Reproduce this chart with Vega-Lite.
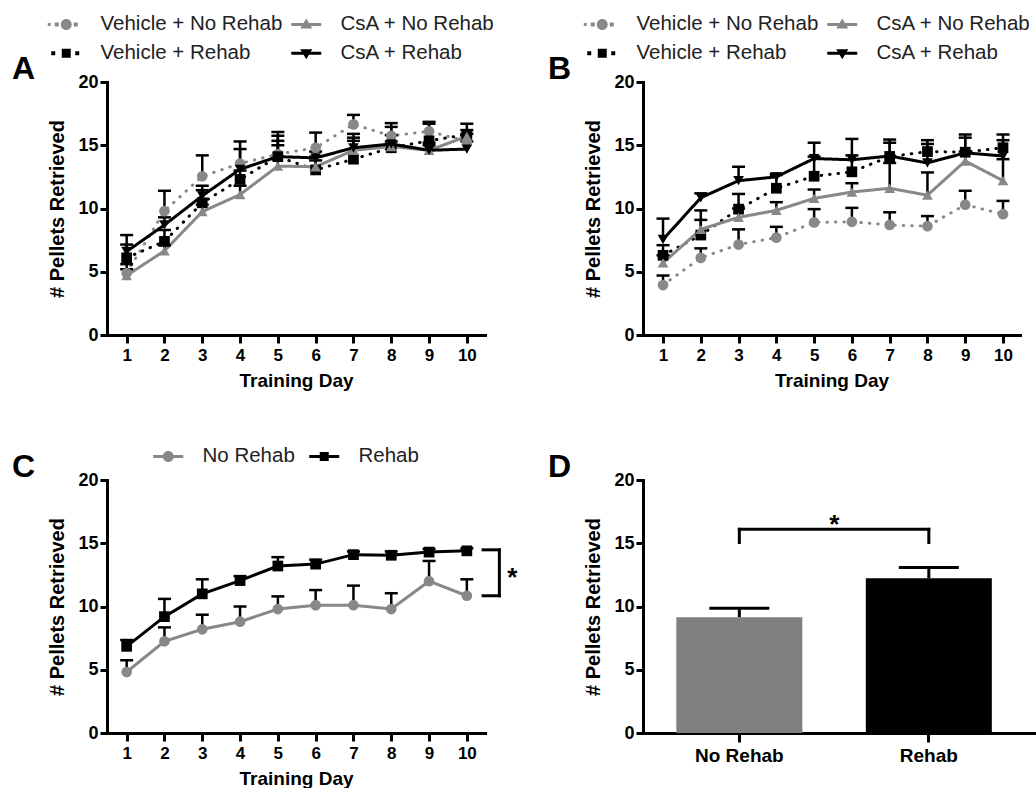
{
"$schema":"https://vega.github.io/schema/vega-lite/v6.json",
"autosize":{"type":"pad"},
"padding":{"left":12,"top":14,"right":0,"bottom":0},
"background":"white",
"columns":2,
"bounds":"flush",
"align":"each",
"spacing":{"row":145,"column":158},
"config":{
 "view":{"stroke":null},
 "font":"Liberation Sans",
 "axis":{"domainColor":"#000","domainWidth":3,"domainCap":"square","tickColor":"#000","tickWidth":3,"grid":false,"labelFont":"Liberation Sans","labelFontWeight":"bold","labelColor":"#000","titleFont":"Liberation Sans","titleFontWeight":"bold","titleColor":"#000","labelFlush":false,"labelOverlap":false},
 "axisY":{"tickSize":7,"labelPadding":2,"labelFontSize":18,"titleFontSize":20,"titlePadding":10},
 "axisX":{"tickSize":8,"labelPadding":4,"labelFontSize":17,"titleFontSize":19,"titlePadding":8,"labelAngle":0},
 "legend":{"labelFont":"Liberation Sans","labelFontSize":20.5,"labelColor":"#222","labelLimit":400,"symbolSize":100,"symbolStrokeWidth":0,"labelOffset":24,"rowPadding":8},
 "title":{"anchor":"start","frame":"group","fontSize":32,"fontWeight":"bold","font":"Liberation Sans","color":"#000","offset":0,"dx":-95,"baseline":"alphabetic"}
},
"datasets":{
 "A":[
  {"group":"Vehicle + No Rehab","day":1,"mean":4.9,"upper":5.6},{"group":"Vehicle + No Rehab","day":2,"mean":9.8,"upper":11.4},{"group":"Vehicle + No Rehab","day":3,"mean":12.55,"upper":14.2},{"group":"Vehicle + No Rehab","day":4,"mean":13.55,"upper":15.3},{"group":"Vehicle + No Rehab","day":5,"mean":14.3,"upper":15.75},{"group":"Vehicle + No Rehab","day":6,"mean":14.8,"upper":16.0},{"group":"Vehicle + No Rehab","day":7,"mean":16.65,"upper":17.4},{"group":"Vehicle + No Rehab","day":8,"mean":15.75,"upper":16.75},{"group":"Vehicle + No Rehab","day":9,"mean":16.1,"upper":16.85},{"group":"Vehicle + No Rehab","day":10,"mean":15.3,"upper":15.9},
  {"group":"Vehicle + Rehab","day":1,"mean":6.1,"upper":7.15},{"group":"Vehicle + Rehab","day":2,"mean":7.4,"upper":8.3},{"group":"Vehicle + Rehab","day":3,"mean":10.45,"upper":11.45},{"group":"Vehicle + Rehab","day":4,"mean":12.3,"upper":13.0},{"group":"Vehicle + Rehab","day":5,"mean":14.1,"upper":15.35},{"group":"Vehicle + Rehab","day":6,"mean":13.05,"upper":14.1},{"group":"Vehicle + Rehab","day":7,"mean":13.9,"upper":15.35},{"group":"Vehicle + Rehab","day":8,"mean":14.8,"upper":15.8},{"group":"Vehicle + Rehab","day":9,"mean":15.35,"upper":16.7},{"group":"Vehicle + Rehab","day":10,"mean":15.85,"upper":16.7},
  {"group":"CsA + No Rehab","day":1,"mean":4.7,"upper":5.2},{"group":"CsA + No Rehab","day":2,"mean":6.65,"upper":7.1},{"group":"CsA + No Rehab","day":3,"mean":9.75,"upper":10.3},{"group":"CsA + No Rehab","day":4,"mean":11.1,"upper":11.8},{"group":"CsA + No Rehab","day":5,"mean":13.35,"upper":15.0},{"group":"CsA + No Rehab","day":6,"mean":13.3,"upper":13.8},{"group":"CsA + No Rehab","day":7,"mean":14.6,"upper":15.6},{"group":"CsA + No Rehab","day":8,"mean":14.9,"upper":15.3},{"group":"CsA + No Rehab","day":9,"mean":14.6,"upper":15.0},{"group":"CsA + No Rehab","day":10,"mean":15.7,"upper":16.2},
  {"group":"CsA + Rehab","day":1,"mean":6.6,"upper":7.9},{"group":"CsA + Rehab","day":2,"mean":8.7,"upper":9.3},{"group":"CsA + Rehab","day":3,"mean":11.0,"upper":11.8},{"group":"CsA + Rehab","day":4,"mean":13.1,"upper":14.7},{"group":"CsA + Rehab","day":5,"mean":14.1,"upper":16.05},{"group":"CsA + Rehab","day":6,"mean":14.0,"upper":14.5},{"group":"CsA + Rehab","day":7,"mean":14.8,"upper":15.9},{"group":"CsA + Rehab","day":8,"mean":15.1,"upper":16.45},{"group":"CsA + Rehab","day":9,"mean":14.6,"upper":15.2},{"group":"CsA + Rehab","day":10,"mean":14.7,"upper":15.3}
 ],
 "B":[
  {"group":"Vehicle + No Rehab","day":1,"mean":3.95,"upper":4.7},{"group":"Vehicle + No Rehab","day":2,"mean":6.1,"upper":6.85},{"group":"Vehicle + No Rehab","day":3,"mean":7.15,"upper":8.35},{"group":"Vehicle + No Rehab","day":4,"mean":7.7,"upper":8.55},{"group":"Vehicle + No Rehab","day":5,"mean":8.9,"upper":9.95},{"group":"Vehicle + No Rehab","day":6,"mean":8.95,"upper":10.05},{"group":"Vehicle + No Rehab","day":7,"mean":8.7,"upper":9.7},{"group":"Vehicle + No Rehab","day":8,"mean":8.6,"upper":9.4},{"group":"Vehicle + No Rehab","day":9,"mean":10.3,"upper":11.4},{"group":"Vehicle + No Rehab","day":10,"mean":9.55,"upper":10.6},
  {"group":"Vehicle + Rehab","day":1,"mean":6.3,"upper":7.1},{"group":"Vehicle + Rehab","day":2,"mean":7.9,"upper":9.85},{"group":"Vehicle + Rehab","day":3,"mean":9.95,"upper":11.15},{"group":"Vehicle + Rehab","day":4,"mean":11.6,"upper":12.65},{"group":"Vehicle + Rehab","day":5,"mean":12.55,"upper":14.1},{"group":"Vehicle + Rehab","day":6,"mean":12.9,"upper":14.2},{"group":"Vehicle + Rehab","day":7,"mean":14.1,"upper":15.2},{"group":"Vehicle + Rehab","day":8,"mean":14.5,"upper":15.4},{"group":"Vehicle + Rehab","day":9,"mean":14.45,"upper":15.85},{"group":"Vehicle + Rehab","day":10,"mean":14.8,"upper":15.85},
  {"group":"CsA + No Rehab","day":1,"mean":5.7,"upper":6.3},{"group":"CsA + No Rehab","day":2,"mean":8.35,"upper":9.1},{"group":"CsA + No Rehab","day":3,"mean":9.3,"upper":10.0},{"group":"CsA + No Rehab","day":4,"mean":9.85,"upper":10.5},{"group":"CsA + No Rehab","day":5,"mean":10.8,"upper":11.5},{"group":"CsA + No Rehab","day":6,"mean":11.3,"upper":12.0},{"group":"CsA + No Rehab","day":7,"mean":11.6,"upper":13.6},{"group":"CsA + No Rehab","day":8,"mean":11.05,"upper":12.85},{"group":"CsA + No Rehab","day":9,"mean":13.75,"upper":14.5},{"group":"CsA + No Rehab","day":10,"mean":12.2,"upper":13.9},
  {"group":"CsA + Rehab","day":1,"mean":7.55,"upper":9.2},{"group":"CsA + Rehab","day":2,"mean":10.85,"upper":11.2},{"group":"CsA + Rehab","day":3,"mean":12.2,"upper":13.3},{"group":"CsA + Rehab","day":4,"mean":12.5,"upper":12.75},{"group":"CsA + Rehab","day":5,"mean":13.95,"upper":15.2},{"group":"CsA + Rehab","day":6,"mean":13.85,"upper":15.5},{"group":"CsA + Rehab","day":7,"mean":14.15,"upper":15.45},{"group":"CsA + Rehab","day":8,"mean":13.6,"upper":15.1},{"group":"CsA + Rehab","day":9,"mean":14.4,"upper":15.6},{"group":"CsA + Rehab","day":10,"mean":14.15,"upper":15.4}
 ],
 "C":[
  {"group":"No Rehab","day":1,"mean":4.82,"upper":5.75},{"group":"No Rehab","day":2,"mean":7.25,"upper":8.35},{"group":"No Rehab","day":3,"mean":8.2,"upper":9.35},{"group":"No Rehab","day":4,"mean":8.8,"upper":10.0},{"group":"No Rehab","day":5,"mean":9.8,"upper":10.8},{"group":"No Rehab","day":6,"mean":10.1,"upper":11.3},{"group":"No Rehab","day":7,"mean":10.1,"upper":11.65},{"group":"No Rehab","day":8,"mean":9.8,"upper":11.05},{"group":"No Rehab","day":9,"mean":12.0,"upper":13.6},{"group":"No Rehab","day":10,"mean":10.85,"upper":12.15},
  {"group":"Rehab","day":1,"mean":6.85,"upper":7.35},{"group":"Rehab","day":2,"mean":9.2,"upper":10.6},{"group":"Rehab","day":3,"mean":11.0,"upper":12.15},{"group":"Rehab","day":4,"mean":12.05,"upper":12.4},{"group":"Rehab","day":5,"mean":13.2,"upper":13.9},{"group":"Rehab","day":6,"mean":13.35,"upper":13.7},{"group":"Rehab","day":7,"mean":14.1,"upper":14.35},{"group":"Rehab","day":8,"mean":14.05,"upper":14.35},{"group":"Rehab","day":9,"mean":14.3,"upper":14.55},{"group":"Rehab","day":10,"mean":14.4,"upper":14.6}
 ],
 "D":[
  {"cat":"No Rehab","mean":9.16,"upper":9.87},{"cat":"Rehab","mean":12.24,"upper":13.08}
 ]
},
"concat":[
 {
  "width":378,"height":253,
  "title":{"text":"A","dy":76},
  "data":{"name":"A"},
  "resolve":{"scale":{"color":"independent","shape":"independent","strokeDash":"independent"}},
  "layer":[
   {"mark":{"type":"line","strokeWidth":3,"strokeCap":"round"},
    "encoding":{
     "x":{"field":"day","type":"quantitative","scale":{"domain":[0.48,10.48],"nice":false,"zero":false},"axis":{"values":[1,2,3,4,5,6,7,8,9,10],"title":"Training Day"}},
     "y":{"field":"mean","type":"quantitative","scale":{"domain":[0,20],"nice":false},"axis":{"values":[0,5,10,15,20],"title":"# Pellets Retrieved"}},
     "color":{"field":"group","type":"nominal","scale":{"domain":["Vehicle + No Rehab","CsA + No Rehab","Vehicle + Rehab","CsA + Rehab"],"range":["#888888","#888888","#000000","#000000"]},"legend":null},
     "strokeDash":{"field":"group","type":"nominal","scale":{"domain":["Vehicle + No Rehab","CsA + No Rehab","Vehicle + Rehab","CsA + Rehab"],"range":[[0.5,8],[1,0],[0.5,8],[1,0]]},"legend":null}}},
   {"mark":{"type":"rule","strokeWidth":2.5,"color":"#000"},
    "encoding":{
     "x":{"field":"day","type":"quantitative","scale":{"domain":[0.48,10.48],"nice":false,"zero":false},"axis":{"values":[1,2,3,4,5,6,7,8,9,10],"title":"Training Day"}},
     "y":{"field":"mean","type":"quantitative","scale":{"domain":[0,20],"nice":false},"axis":{"values":[0,5,10,15,20],"title":"# Pellets Retrieved"}},
     "y2":{"field":"upper"}}},
   {"mark":{"type":"point","shape":"stroke","size":169,"strokeWidth":2.5,"color":"#000","opacity":1,"filled":false},
    "encoding":{
     "x":{"field":"day","type":"quantitative","scale":{"domain":[0.48,10.48],"nice":false,"zero":false},"axis":{"values":[1,2,3,4,5,6,7,8,9,10],"title":"Training Day"}},
     "y":{"field":"upper","type":"quantitative","scale":{"domain":[0,20],"nice":false},"axis":{"values":[0,5,10,15,20],"title":"# Pellets Retrieved"}}}},
   {"mark":{"type":"point","filled":true,"size":115,"opacity":1},
    "encoding":{
     "x":{"field":"day","type":"quantitative","scale":{"domain":[0.48,10.48],"nice":false,"zero":false},"axis":{"values":[1,2,3,4,5,6,7,8,9,10],"title":"Training Day"}},
     "y":{"field":"mean","type":"quantitative","scale":{"domain":[0,20],"nice":false},"axis":{"values":[0,5,10,15,20],"title":"# Pellets Retrieved"}},
     "color":{"field":"group","type":"nominal","scale":{"domain":["Vehicle + No Rehab","CsA + No Rehab","Vehicle + Rehab","CsA + Rehab"],"range":["#888888","#888888","#000000","#000000"]},"legend":null},
     "shape":{"field":"group","type":"nominal","scale":{"domain":["Vehicle + No Rehab","CsA + No Rehab","Vehicle + Rehab","CsA + Rehab"],"range":["circle","triangle-up","square","triangle-down"]},"legend":null}}},
   {"transform":[{"filter":"false"}],
    "mark":{"type":"point","filled":true,"opacity":1},
    "encoding":{
     "color":{"field":"group","type":"nominal","scale":{"domain":["Vehicle + No Rehab","Vehicle + Rehab","CsA + No Rehab","CsA + Rehab"],"range":["#888888","#000000","#888888","#000000"]},"legend":{"title":null,"orient":"none","legendX":-51,"legendY":-68,"columns":2,"columnPadding":8}},
     "shape":{"field":"group","type":"nominal","scale":{"domain":["Vehicle + No Rehab","Vehicle + Rehab","CsA + No Rehab","CsA + Rehab"],"range":["M-3.7,-0.3H-3.1V0.3H-3.7Z M-2.3,-0.4H-1.5V0.4H-2.3Z M1.5,-0.4H2.3V0.4H1.5Z M-1.1,0A1.1,1.1,0,1,1,1.1,0A1.1,1.1,0,1,1,-1.1,0Z","M-3,-0.4H-2.2V0.4H-3Z M1.8,-0.4H2.6V0.4H1.8Z M-0.9,-0.9H0.9V0.9H-0.9Z","M-3,-0.3H3V0.3H-3Z M0,-1.2L1.2,0.8H-1.2Z","M-3,-0.3H3V0.3H-3Z M0,1.2L-1.2,-0.8H1.2Z"]},"legend":{"title":null,"orient":"none","legendX":-51,"legendY":-68,"columns":2,"columnPadding":8}}}}
  ]
 },
 {
  "width":377,"height":253,
  "title":{"text":"B","dy":76},
  "data":{"name":"B"},
  "resolve":{"scale":{"color":"independent","shape":"independent","strokeDash":"independent"}},
  "layer":[
   {"mark":{"type":"line","strokeWidth":3,"strokeCap":"round"},
    "encoding":{
     "x":{"field":"day","type":"quantitative","scale":{"domain":[0.47,10.45],"nice":false,"zero":false},"axis":{"values":[1,2,3,4,5,6,7,8,9,10],"title":"Training Day"}},
     "y":{"field":"mean","type":"quantitative","scale":{"domain":[0,20],"nice":false},"axis":{"values":[0,5,10,15,20],"title":"# Pellets Retrieved"}},
     "color":{"field":"group","type":"nominal","scale":{"domain":["Vehicle + No Rehab","CsA + No Rehab","Vehicle + Rehab","CsA + Rehab"],"range":["#888888","#888888","#000000","#000000"]},"legend":null},
     "strokeDash":{"field":"group","type":"nominal","scale":{"domain":["Vehicle + No Rehab","CsA + No Rehab","Vehicle + Rehab","CsA + Rehab"],"range":[[0.5,8],[1,0],[0.5,8],[1,0]]},"legend":null}}},
   {"mark":{"type":"rule","strokeWidth":2.5,"color":"#000"},
    "encoding":{
     "x":{"field":"day","type":"quantitative","scale":{"domain":[0.47,10.45],"nice":false,"zero":false},"axis":{"values":[1,2,3,4,5,6,7,8,9,10],"title":"Training Day"}},
     "y":{"field":"mean","type":"quantitative","scale":{"domain":[0,20],"nice":false},"axis":{"values":[0,5,10,15,20],"title":"# Pellets Retrieved"}},
     "y2":{"field":"upper"}}},
   {"mark":{"type":"point","shape":"stroke","size":169,"strokeWidth":2.5,"color":"#000","opacity":1,"filled":false},
    "encoding":{
     "x":{"field":"day","type":"quantitative","scale":{"domain":[0.47,10.45],"nice":false,"zero":false},"axis":{"values":[1,2,3,4,5,6,7,8,9,10],"title":"Training Day"}},
     "y":{"field":"upper","type":"quantitative","scale":{"domain":[0,20],"nice":false},"axis":{"values":[0,5,10,15,20],"title":"# Pellets Retrieved"}}}},
   {"mark":{"type":"point","filled":true,"size":115,"opacity":1},
    "encoding":{
     "x":{"field":"day","type":"quantitative","scale":{"domain":[0.47,10.45],"nice":false,"zero":false},"axis":{"values":[1,2,3,4,5,6,7,8,9,10],"title":"Training Day"}},
     "y":{"field":"mean","type":"quantitative","scale":{"domain":[0,20],"nice":false},"axis":{"values":[0,5,10,15,20],"title":"# Pellets Retrieved"}},
     "color":{"field":"group","type":"nominal","scale":{"domain":["Vehicle + No Rehab","CsA + No Rehab","Vehicle + Rehab","CsA + Rehab"],"range":["#888888","#888888","#000000","#000000"]},"legend":null},
     "shape":{"field":"group","type":"nominal","scale":{"domain":["Vehicle + No Rehab","CsA + No Rehab","Vehicle + Rehab","CsA + Rehab"],"range":["circle","triangle-up","square","triangle-down"]},"legend":null}}},
   {"transform":[{"filter":"false"}],
    "mark":{"type":"point","filled":true,"opacity":1},
    "encoding":{
     "color":{"field":"group","type":"nominal","scale":{"domain":["Vehicle + No Rehab","Vehicle + Rehab","CsA + No Rehab","CsA + Rehab"],"range":["#888888","#000000","#888888","#000000"]},"legend":{"title":null,"orient":"none","legendX":-51,"legendY":-68,"columns":2,"columnPadding":8}},
     "shape":{"field":"group","type":"nominal","scale":{"domain":["Vehicle + No Rehab","Vehicle + Rehab","CsA + No Rehab","CsA + Rehab"],"range":["M-3.7,-0.3H-3.1V0.3H-3.7Z M-2.3,-0.4H-1.5V0.4H-2.3Z M1.5,-0.4H2.3V0.4H1.5Z M-1.1,0A1.1,1.1,0,1,1,1.1,0A1.1,1.1,0,1,1,-1.1,0Z","M-3,-0.4H-2.2V0.4H-3Z M1.8,-0.4H2.6V0.4H1.8Z M-0.9,-0.9H0.9V0.9H-0.9Z","M-3,-0.3H3V0.3H-3Z M0,-1.2L1.2,0.8H-1.2Z","M-3,-0.3H3V0.3H-3Z M0,1.2L-1.2,-0.8H1.2Z"]},"legend":{"title":null,"orient":"none","legendX":-51,"legendY":-68,"columns":2,"columnPadding":8}}}}
  ]
 },
 {
  "width":378,"height":253,
  "title":{"text":"C","dy":42},
  "data":{"name":"C"},
  "resolve":{"scale":{"color":"independent","shape":"independent"}},
  "layer":[
   {"mark":{"type":"line","strokeWidth":3,"strokeCap":"round"},
    "encoding":{
     "x":{"field":"day","type":"quantitative","scale":{"domain":[0.48,10.48],"nice":false,"zero":false},"axis":{"values":[1,2,3,4,5,6,7,8,9,10],"title":"Training Day"}},
     "y":{"field":"mean","type":"quantitative","scale":{"domain":[0,20],"nice":false},"axis":{"values":[0,5,10,15,20],"title":"# Pellets Retrieved"}},
     "color":{"field":"group","type":"nominal","scale":{"domain":["No Rehab","Rehab"],"range":["#888888","#000000"]},"legend":null}}},
   {"mark":{"type":"rule","strokeWidth":2.5,"color":"#000"},
    "encoding":{
     "x":{"field":"day","type":"quantitative","scale":{"domain":[0.48,10.48],"nice":false,"zero":false},"axis":{"values":[1,2,3,4,5,6,7,8,9,10],"title":"Training Day"}},
     "y":{"field":"mean","type":"quantitative","scale":{"domain":[0,20],"nice":false},"axis":{"values":[0,5,10,15,20],"title":"# Pellets Retrieved"}},
     "y2":{"field":"upper"}}},
   {"mark":{"type":"point","shape":"stroke","size":169,"strokeWidth":2.5,"color":"#000","opacity":1,"filled":false},
    "encoding":{
     "x":{"field":"day","type":"quantitative","scale":{"domain":[0.48,10.48],"nice":false,"zero":false},"axis":{"values":[1,2,3,4,5,6,7,8,9,10],"title":"Training Day"}},
     "y":{"field":"upper","type":"quantitative","scale":{"domain":[0,20],"nice":false},"axis":{"values":[0,5,10,15,20],"title":"# Pellets Retrieved"}}}},
   {"mark":{"type":"point","filled":true,"size":115,"opacity":1},
    "encoding":{
     "x":{"field":"day","type":"quantitative","scale":{"domain":[0.48,10.48],"nice":false,"zero":false},"axis":{"values":[1,2,3,4,5,6,7,8,9,10],"title":"Training Day"}},
     "y":{"field":"mean","type":"quantitative","scale":{"domain":[0,20],"nice":false},"axis":{"values":[0,5,10,15,20],"title":"# Pellets Retrieved"}},
     "color":{"field":"group","type":"nominal","scale":{"domain":["No Rehab","Rehab"],"range":["#888888","#000000"]},"legend":null},
     "shape":{"field":"group","type":"nominal","scale":{"domain":["No Rehab","Rehab"],"range":["circle","square"]},"legend":null}}},
   {"transform":[{"filter":"false"}],
    "mark":{"type":"point","filled":true,"opacity":1},
    "encoding":{
     "color":{"field":"group","type":"nominal","scale":{"domain":["No Rehab","Rehab"],"range":["#888888","#000000"]},"legend":{"title":null,"orient":"none","legendX":51,"legendY":-34,"columns":2,"columnPadding":14}},
     "shape":{"field":"group","type":"nominal","scale":{"domain":["No Rehab","Rehab"],"range":["M-3,-0.3H3V0.3H-3Z M-1.1,0A1.1,1.1,0,1,1,1.1,0A1.1,1.1,0,1,1,-1.1,0Z","M-3,-0.3H3V0.3H-3Z M-0.9,-0.9H0.9V0.9H-0.9Z"]},"legend":{"title":null,"orient":"none","legendX":51,"legendY":-34,"columns":2,"columnPadding":14}}}},
   {"data":{"values":[{"x":10.43,"x2":10.86,"y":14.48,"y2":14.48},{"x":10.86,"x2":10.86,"y":14.48,"y2":10.85},{"x":10.43,"x2":10.86,"y":10.85,"y2":10.85}]},
    "mark":{"type":"rule","strokeWidth":3,"color":"#000","strokeCap":"square"},
    "encoding":{
     "x":{"field":"x","type":"quantitative","scale":{"domain":[0.48,10.48],"nice":false,"zero":false},"axis":{"values":[1,2,3,4,5,6,7,8,9,10],"title":"Training Day"}},
     "x2":{"field":"x2"},
     "y":{"field":"y","type":"quantitative","scale":{"domain":[0,20],"nice":false},"axis":{"values":[0,5,10,15,20],"title":"# Pellets Retrieved"}},
     "y2":{"field":"y2"}}},
   {"data":{"values":[{"x":11.2,"y":12.25,"label":"*"}]},
    "mark":{"type":"text","fontSize":26,"fontWeight":"bold","font":"Liberation Sans","color":"#000","align":"center","baseline":"middle"},
    "encoding":{
     "x":{"field":"x","type":"quantitative","scale":{"domain":[0.48,10.48],"nice":false,"zero":false},"axis":{"values":[1,2,3,4,5,6,7,8,9,10],"title":"Training Day"}},
     "y":{"field":"y","type":"quantitative","scale":{"domain":[0,20],"nice":false},"axis":{"values":[0,5,10,15,20],"title":"# Pellets Retrieved"}},
     "text":{"field":"label"}}}
  ]
 },
 {
  "width":393,"height":253,
  "title":{"text":"D","dy":17},
  "data":{"name":"D"},
  "layer":[
   {"mark":{"type":"bar"},
    "encoding":{
     "x":{"field":"cat","type":"nominal","sort":null,"scale":{"domain":["No Rehab","Rehab"],"paddingInner":0.335,"paddingOuter":0.2045,"align":0.43},"axis":{"title":null,"labelFontSize":19,"tickSize":9,"labelPadding":4}},
     "y":{"field":"mean","type":"quantitative","scale":{"domain":[0,20],"nice":false},"axis":{"values":[0,5,10,15,20],"title":"# Pellets Retrieved"}},
     "color":{"field":"cat","type":"nominal","scale":{"domain":["No Rehab","Rehab"],"range":["#808080","#000000"]},"legend":null}}},
   {"mark":{"type":"rule","strokeWidth":3,"color":"#000"},
    "encoding":{
     "x":{"field":"cat","type":"nominal","sort":null,"scale":{"domain":["No Rehab","Rehab"],"paddingInner":0.335,"paddingOuter":0.2045,"align":0.43},"axis":{"title":null,"labelFontSize":19,"tickSize":9,"labelPadding":4}},
     "y":{"field":"mean","type":"quantitative","scale":{"domain":[0,20],"nice":false},"axis":{"values":[0,5,10,15,20],"title":"# Pellets Retrieved"}},
     "y2":{"field":"upper"}}},
   {"mark":{"type":"point","shape":"stroke","size":3600,"strokeWidth":3,"color":"#000","opacity":1,"filled":false},
    "encoding":{
     "x":{"field":"cat","type":"nominal","sort":null,"scale":{"domain":["No Rehab","Rehab"],"paddingInner":0.335,"paddingOuter":0.2045,"align":0.43},"axis":{"title":null,"labelFontSize":19,"tickSize":9,"labelPadding":4}},
     "y":{"field":"upper","type":"quantitative","scale":{"domain":[0,20],"nice":false},"axis":{"values":[0,5,10,15,20],"title":"# Pellets Retrieved"}}}},
   {"data":{"values":[{"cat":"No Rehab","lo":15.06,"hi":16.1},{"cat":"Rehab","lo":15.06,"hi":16.1}]},
    "mark":{"type":"rule","strokeWidth":3,"color":"#000","strokeCap":"square"},
    "encoding":{
     "x":{"field":"cat","type":"nominal","sort":null,"scale":{"domain":["No Rehab","Rehab"],"paddingInner":0.335,"paddingOuter":0.2045,"align":0.43},"axis":{"title":null,"labelFontSize":19,"tickSize":9,"labelPadding":4}},
     "y":{"field":"lo","type":"quantitative","scale":{"domain":[0,20],"nice":false},"axis":{"values":[0,5,10,15,20],"title":"# Pellets Retrieved"}},
     "y2":{"field":"hi"}}},
   {"data":{"values":[{"from":"No Rehab","to":"Rehab","y":16.1}]},
    "mark":{"type":"rule","strokeWidth":3,"color":"#000","strokeCap":"square"},
    "encoding":{
     "x":{"field":"from","type":"nominal","sort":null,"scale":{"domain":["No Rehab","Rehab"],"paddingInner":0.335,"paddingOuter":0.2045,"align":0.43},"axis":{"title":null,"labelFontSize":19,"tickSize":9,"labelPadding":4}},
     "x2":{"field":"to"},
     "y":{"field":"y","type":"quantitative","scale":{"domain":[0,20],"nice":false},"axis":{"values":[0,5,10,15,20],"title":"# Pellets Retrieved"}}}},
   {"data":{"values":[{"cat":"No Rehab","y":16.45,"label":"*"}]},
    "mark":{"type":"text","fontSize":26,"fontWeight":"bold","font":"Liberation Sans","color":"#000","align":"center","baseline":"middle","dx":95},
    "encoding":{
     "x":{"field":"cat","type":"nominal","sort":null,"scale":{"domain":["No Rehab","Rehab"],"paddingInner":0.335,"paddingOuter":0.2045,"align":0.43},"axis":{"title":null,"labelFontSize":19,"tickSize":9,"labelPadding":4}},
     "y":{"field":"y","type":"quantitative","scale":{"domain":[0,20],"nice":false},"axis":{"values":[0,5,10,15,20],"title":"# Pellets Retrieved"}},
     "text":{"field":"label"}}}
  ]
 }
]
}
